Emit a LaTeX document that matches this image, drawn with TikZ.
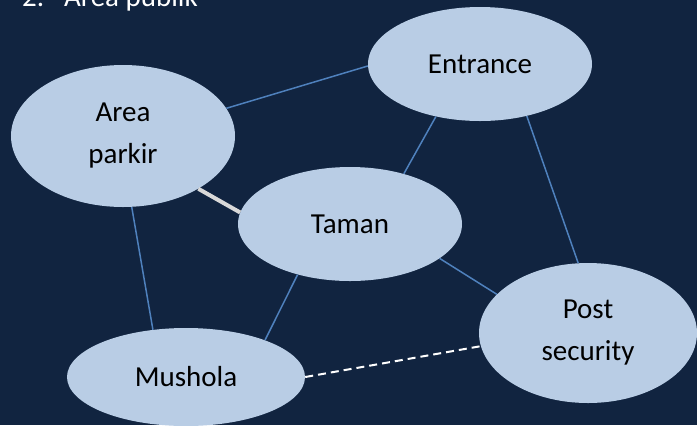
\documentclass[tikz,border=0pt]{standalone}
\usepackage{fontspec}
\setmainfont{Carlito}
\usepackage{tikz}
\usetikzlibrary{shapes.geometric}
\definecolor{bgNavy}{HTML}{112440}
\definecolor{spotFill}{HTML}{B9CDE5}
\definecolor{linkBlue}{HTML}{4F81BD}
\definecolor{pathGrey}{HTML}{D9D9D9}

\begin{document}
\begin{tikzpicture}[x=1bp, y=-1bp,
    every node/.style={font=\fontsize{29bp}{42bp}\selectfont},
    spot/.style={ellipse, fill=spotFill, inner sep=0pt, align=center, text=black},
    link/.style={linkBlue, line width=1.5bp},
    walk/.style={pathGrey, line width=4bp},
    trail/.style={white, line width=2bp, dash pattern=on 8bp off 5bp}]
  \useasboundingbox (0,0) rectangle (697,425);
  \clip (0,0) rectangle (697,425);
  \fill[bgNavy] (0,0) rectangle (697,425);
  % heading, cut off at the top edge
  \node[anchor=base west, text=white, inner sep=0pt] (head) at (22,6) {2.\hspace{20bp}Area publik};
  % spots
  \node[spot, minimum width=224bp, minimum height=114bp] (entrance) at (480,64) {Entrance};
  \node[spot, minimum width=224bp, minimum height=142bp] (parkir) at (123,136) {Area\\parkir};
  \node[spot, minimum width=224bp, minimum height=114bp] (taman) at (350,224) {Taman};
  \node[spot, minimum width=218bp, minimum height=140bp] (post) at (588,333) {Post\\security};
  \node[spot, minimum width=238bp, minimum height=98bp] (mushola) at (186,377) {Mushola};
  % links
  \draw[link] (parkir.15) -- (entrance.181);
  \draw[link] (entrance.230) -- (taman.43);
  \draw[link] (entrance.312) -- (post.98);
  \draw[link] (parkir.277) -- (mushola.125);
  \draw[link] (taman.224) -- (mushola.25);
  \draw[link] (taman.339) -- (post.157);
  \draw[walk] (parkir.325) -- (taman.174);
  \draw[trail] (mushola.0) -- (post.187);
\end{tikzpicture}
\end{document}
